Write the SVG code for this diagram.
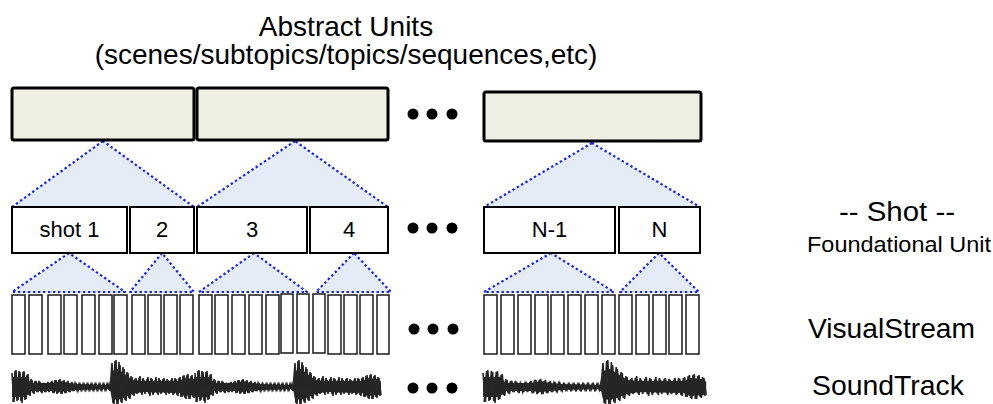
<svg xmlns="http://www.w3.org/2000/svg" xmlns:xlink="http://www.w3.org/1999/xlink" width="993" height="404" viewBox="0 0 993 404">
  <style>
    text { font-family: "Liberation Sans", Arial, sans-serif; fill: #000; }
    .title { font-size: 28px; text-anchor: middle; }
    .unit { fill: #eeeee3; stroke: #000; stroke-width: 3; }
    .shot { fill: #fff; stroke: #000; stroke-width: 2; }
    .shot-label { font-size: 22px; text-anchor: middle; }
    .frame { fill: #fff; stroke: #1a1a1a; stroke-width: 1.5; }
    .tri { fill: #e6ecf7; stroke: #1424ee; stroke-width: 2.2; stroke-dasharray: 2.4 2.6; stroke-linejoin: round; }
    .dot { fill: #000; }
    .side { text-anchor: start; }
    .wave { fill: none; stroke: #262626; stroke-width: 1.6; stroke-linejoin: miter; }
    .wave-core { fill: #262626; stroke: none; }
  </style>
  <defs>
    <!-- one audio clip: a solid core plus a dense zigzag of samples -->
    <g id="clip">
      <polygon class="wave-core" points="0,-10 14,-10 18,-5 20,-4 40,-4 48,-6 56,-4 66,-3 98,-2 100,-16 106,-18 114,-12 120,-7 130,-6 168,-6 172,-9 184,-8 186,-5 186,6 184,8 172,9 168,6 130,5 120,7 114,10 106,13 100,12 98,2 66,3 56,4 48,5 40,4 20,4 18,5 14,10 0,10"/>
      <path class="wave" vector-effect="non-scaling-stroke" d="M0,-14 L2,15 4,-17 6,13 8,-15 10,16 12,-16 14,12 16,-13 18,9 20,-7 22,7 24,-6 26,5 28,-5 30,6 32,-4 34,5 36,-5 38,4 40,-6 42,6 44,-7 46,6 48,-8 50,7 52,-7 54,6 56,-6 58,5 60,-5 62,4 64,-4 66,4 68,-3 70,3 72,-3 74,3 76,-3 78,3 80,-3 82,3 84,-3 86,3 88,-3 90,3 92,-3 94,3 96,-3 98,4 100,-24 102,18 104,-27 106,17 108,-22 110,16 112,-18 114,14 116,-14 118,12 120,-10 122,9 124,-9 126,6 128,-11 130,8 132,-7 134,5 136,-10 138,9 140,-8 142,6 144,-10 146,8 148,-7 150,5 152,-9 154,8 156,-7 158,6 160,-9 162,7 164,-8 166,9 168,-10 170,10 172,-12 174,12 176,-13 178,12 180,-12 182,11 184,-9 186,8"/>
      <path class="wave" vector-effect="non-scaling-stroke" d="M1,15 L3,-16 5,14 7,-16 9,14 11,-15 13,13 15,-12 17,8 19,-8 21,6 23,-6 25,5 27,-6 29,5 31,-4 33,5 35,-4 37,5 39,-5 41,6 43,-7 45,7 47,-7 49,7 51,-6 53,6 55,-5 57,5 59,-4 61,4 63,-4 65,3 67,-3 69,3 71,-3 73,3 75,-3 77,3 79,-3 81,3 83,-3 85,3 87,-3 89,3 91,-3 93,3 95,-3 97,3 99,-8 101,16 103,-26 105,18 107,-25 109,15 111,-20 113,13 115,-15 117,11 119,-11 121,8 123,-8 125,7 127,-9 129,6 131,-9 133,7 135,-8 137,7 139,-9 141,8 143,-7 145,6 147,-9 149,7 151,-8 153,6 155,-8 157,7 159,-7 161,8 163,-9 165,8 167,-9 169,10 171,-11 173,11 175,-12 177,12 179,-11 181,10 183,-10 185,9"/>
    </g>
  </defs>

  <!-- heading -->
  <g id="heading">
    <text class="title" x="346" y="36">Abstract Units</text>
    <text class="title" x="346" y="64">(scenes/subtopics/topics/sequences,etc)</text>
  </g>

  <!-- connectors: dotted fans linking each unit to its children -->
  <g id="connectors">
    <polygon class="tri" points="103,141 12,207 194,207"/>
    <polygon class="tri" points="295,141 197,207 388,207"/>
    <polygon class="tri" points="592,143 484,207 700,207"/>
    <polygon class="tri" points="69,253 12,292 125,292"/>
    <polygon class="tri" points="162,253 130,292 194,292"/>
    <polygon class="tri" points="254,253 199,292 307,292"/>
    <polygon class="tri" points="354,253 316,292 391,292"/>
    <polygon class="tri" points="551,253 484,292 614,292"/>
    <polygon class="tri" points="659,253 620,292 699,292"/>
  </g>

  <!-- abstract units -->
  <g id="unit-1"><rect class="unit" x="12" y="88" width="182" height="52" rx="2"/></g>
  <g id="unit-2"><rect class="unit" x="197" y="88" width="191" height="52" rx="2"/></g>
  <g id="unit-n"><rect class="unit" x="484" y="92" width="217" height="49" rx="2"/></g>
  <g id="unit-ellipsis">
    <circle class="dot" cx="413" cy="114" r="5.5"/>
    <circle class="dot" cx="432" cy="114" r="5.5"/>
    <circle class="dot" cx="452" cy="114" r="5.5"/>
  </g>

  <!-- shots -->
  <g id="shot-1"><rect class="shot" x="12" y="207" width="115" height="46"/><text class="shot-label" x="69.5" y="237">shot 1</text></g>
  <g id="shot-2"><rect class="shot" x="130" y="207" width="64" height="46"/><text class="shot-label" x="162" y="237">2</text></g>
  <g id="shot-3"><rect class="shot" x="197" y="207" width="110" height="46"/><text class="shot-label" x="252" y="237">3</text></g>
  <g id="shot-4"><rect class="shot" x="310" y="207" width="78" height="46"/><text class="shot-label" x="349" y="237">4</text></g>
  <g id="shot-n-1"><rect class="shot" x="484" y="207" width="131" height="46"/><text class="shot-label" x="549.5" y="237">N-1</text></g>
  <g id="shot-n"><rect class="shot" x="619" y="207" width="81" height="46"/><text class="shot-label" x="659.5" y="237">N</text></g>
  <g id="shot-ellipsis">
    <circle class="dot" cx="413" cy="228" r="5.5"/>
    <circle class="dot" cx="432" cy="228" r="5.5"/>
    <circle class="dot" cx="452" cy="228" r="5.5"/>
  </g>

  <!-- visual stream: individual frames -->
  <g id="frames-left">
    <rect class="frame" x="12" y="295" width="13" height="59"/>
    <rect class="frame" x="29" y="295" width="13" height="59"/>
    <rect class="frame" x="48" y="295" width="13" height="59"/>
    <rect class="frame" x="64" y="295" width="13" height="59"/>
    <rect class="frame" x="82" y="295" width="13" height="59"/>
    <rect class="frame" x="99" y="295" width="13" height="59"/>
    <rect class="frame" x="114" y="295" width="13" height="59"/>
    <rect class="frame" x="132" y="295" width="13" height="59"/>
    <rect class="frame" x="148" y="295" width="13" height="59"/>
    <rect class="frame" x="164" y="295" width="13" height="59"/>
    <rect class="frame" x="180" y="295" width="13" height="59"/>
    <rect class="frame" x="199" y="295" width="13" height="59"/>
    <rect class="frame" x="215" y="295" width="13" height="59"/>
    <rect class="frame" x="232" y="295" width="13" height="59"/>
    <rect class="frame" x="249" y="295" width="13" height="59"/>
    <rect class="frame" x="266" y="295" width="13" height="59"/>
    <rect class="frame" x="281" y="294" width="12" height="59"/>
    <rect class="frame" x="297" y="294" width="12" height="59"/>
    <rect class="frame" x="313" y="294" width="12" height="59"/>
    <rect class="frame" x="328" y="295" width="13" height="59"/>
    <rect class="frame" x="344" y="295" width="13" height="59"/>
    <rect class="frame" x="360" y="295" width="13" height="59"/>
    <rect class="frame" x="377" y="295" width="12" height="59"/>
  </g>
  <g id="frames-right">
    <rect class="frame" x="484" y="295" width="13" height="59"/>
    <rect class="frame" x="501" y="295" width="13" height="59"/>
    <rect class="frame" x="518" y="295" width="13" height="59"/>
    <rect class="frame" x="535" y="295" width="13" height="59"/>
    <rect class="frame" x="551" y="295" width="13" height="59"/>
    <rect class="frame" x="568" y="295" width="13" height="59"/>
    <rect class="frame" x="585" y="295" width="13" height="59"/>
    <rect class="frame" x="602" y="295" width="13" height="59"/>
    <rect class="frame" x="619" y="295" width="13" height="59"/>
    <rect class="frame" x="636" y="295" width="13" height="59"/>
    <rect class="frame" x="653" y="295" width="13" height="59"/>
    <rect class="frame" x="669" y="295" width="13" height="59"/>
    <rect class="frame" x="686" y="295" width="13" height="59"/>
  </g>
  <g id="frames-ellipsis">
    <circle class="dot" cx="414" cy="329" r="5.5"/>
    <circle class="dot" cx="433" cy="329" r="5.5"/>
    <circle class="dot" cx="453" cy="329" r="5.5"/>
  </g>

  <!-- sound track -->
  <g id="soundtrack">
    <use xlink:href="#clip" href="#clip" transform="translate(12,387)"/>
    <use xlink:href="#clip" href="#clip" transform="translate(195,387)"/>
    <use xlink:href="#clip" href="#clip" transform="translate(483,387) scale(1.2,1)"/>
  </g>
  <g id="sound-ellipsis">
    <circle class="dot" cx="413" cy="388" r="5.5"/>
    <circle class="dot" cx="432" cy="388" r="5.5"/>
    <circle class="dot" cx="452" cy="388" r="5.5"/>
  </g>

  <!-- level labels -->
  <g id="labels">
    <text class="side" x="839" y="221" font-size="27" textLength="116" lengthAdjust="spacingAndGlyphs">-- Shot --</text>
    <text class="side" x="807" y="252" font-size="22" textLength="184" lengthAdjust="spacingAndGlyphs">Foundational Unit</text>
    <text class="side" x="808" y="338" font-size="28" textLength="167" lengthAdjust="spacingAndGlyphs">VisualStream</text>
    <text class="side" x="812" y="395" font-size="28" textLength="152" lengthAdjust="spacingAndGlyphs">SoundTrack</text>
  </g>
</svg>
